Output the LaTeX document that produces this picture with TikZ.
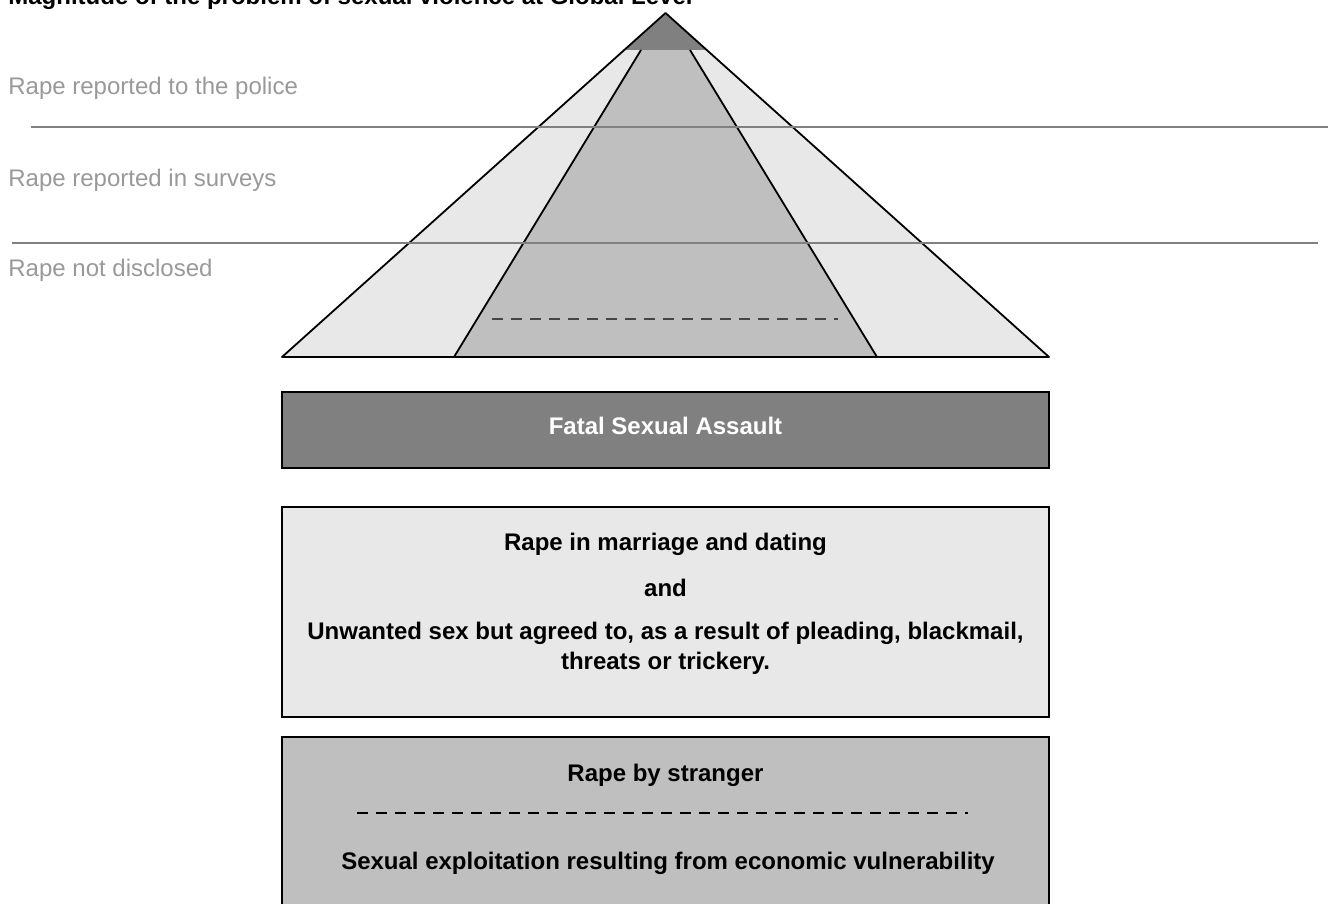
\documentclass[tikz,border=0pt]{standalone}
\usepackage{fontspec}
\setmainfont{Liberation Sans}
\usetikzlibrary{positioning, calc}

\definecolor{fatalgray}{gray}{0.5}
\definecolor{palegray}{gray}{0.91}
\definecolor{midgray}{gray}{0.75}
\definecolor{labelgray}{gray}{0.6}
\definecolor{rulegray}{gray}{0.5}
\definecolor{dashgray}{gray}{0.27}

\begin{document}
\begin{tikzpicture}[
    x=0.5pt, y=-0.5pt,
    box/.style={draw, line width=1pt, minimum width=383.5pt, inner sep=0pt},
    fatalbox/.style={box, fill=fatalgray, minimum height=38pt},
    marriagebox/.style={box, fill=palegray, minimum height=105pt},
    strangerbox/.style={box, fill=midgray, minimum height=100pt},
    boxtext/.style={font=\fontsize{12}{15}\selectfont\bfseries, inner sep=0pt, anchor=base, align=center},
    levellabel/.style={font=\fontsize{12}{14}\selectfont, text=labelgray, inner sep=0pt, anchor=base west},
    levelrule/.style={draw=rulegray, line width=1pt},
    splitline/.style={dash pattern=on 5.5pt off 4pt, line width=1.2pt},
    edge/.style={line width=0.9pt, line join=round},
]
\useasboundingbox (0,0) rectangle (1328,904);
\clip (0,0) rectangle (1328,904);

% pyramid
\coordinate (apex) at (665.5,13);
\coordinate (baseL) at (282,357);
\coordinate (baseR) at (1049,357);
\coordinate (innerTL) at (641,50);
\coordinate (innerTR) at (690,50);
\coordinate (innerBL) at (454,357);
\coordinate (innerBR) at (877,357);
\fill[palegray] (apex) -- (baseR) -- (baseL) -- cycle;
\fill[midgray] (innerTL) -- (innerBL) -- (innerBR) -- (innerTR) -- cycle;
\fill[fatalgray] (apex) -- (706.7,50) -- (624.3,50) -- cycle;
\draw[edge] (innerTL) -- (innerBL) (innerTR) -- (innerBR);
\draw[edge] (apex) -- (baseR) -- (baseL) -- cycle;
\draw[splitline, draw=dashgray] (492,319) -- (838,319);

% levels
\node[font=\fontsize{12}{14}\selectfont\bfseries, inner sep=0pt, anchor=base west] (title) at (8,5)
    {Magnitude of the problem of sexual violence at Global Level};
\node[levellabel] (police) at (8,95) {Rape reported to the police};
\node[levellabel] (surveys) at (8,186) {Rape reported in surveys};
\node[levellabel] (hidden) at (8,276) {Rape not disclosed};
\draw[levelrule] (31,127.5) -- (1328,127.5);
\draw[levelrule] (12,242.5) -- (1318,242.5);

% boxes
\node[fatalbox] (fatal) at (665.5,430) {};
\node[marriagebox] (marriage) at (665.5,612) {};
\node[strangerbox] (stranger) at (665.5,837) {};

\node[boxtext, text=white] (fataltext) at (665.5,434) {Fatal Sexual Assault};
\node[boxtext] (datingtext) at (665.5,550) {Rape in marriage and dating};
\node[boxtext] (andtext) at (665.5,596) {and};
\node[boxtext] (pleadtext) at (665.5,669) {Unwanted sex but agreed to, as a result of pleading, blackmail,\\threats or trickery.};
\node[boxtext] (strangertext) at (665.5,781) {Rape by stranger};
\node[boxtext] (economictext) at (668,869) {Sexual exploitation resulting from economic vulnerability};
\draw[splitline] (357,813) -- (968,813);

\end{tikzpicture}
\end{document}
